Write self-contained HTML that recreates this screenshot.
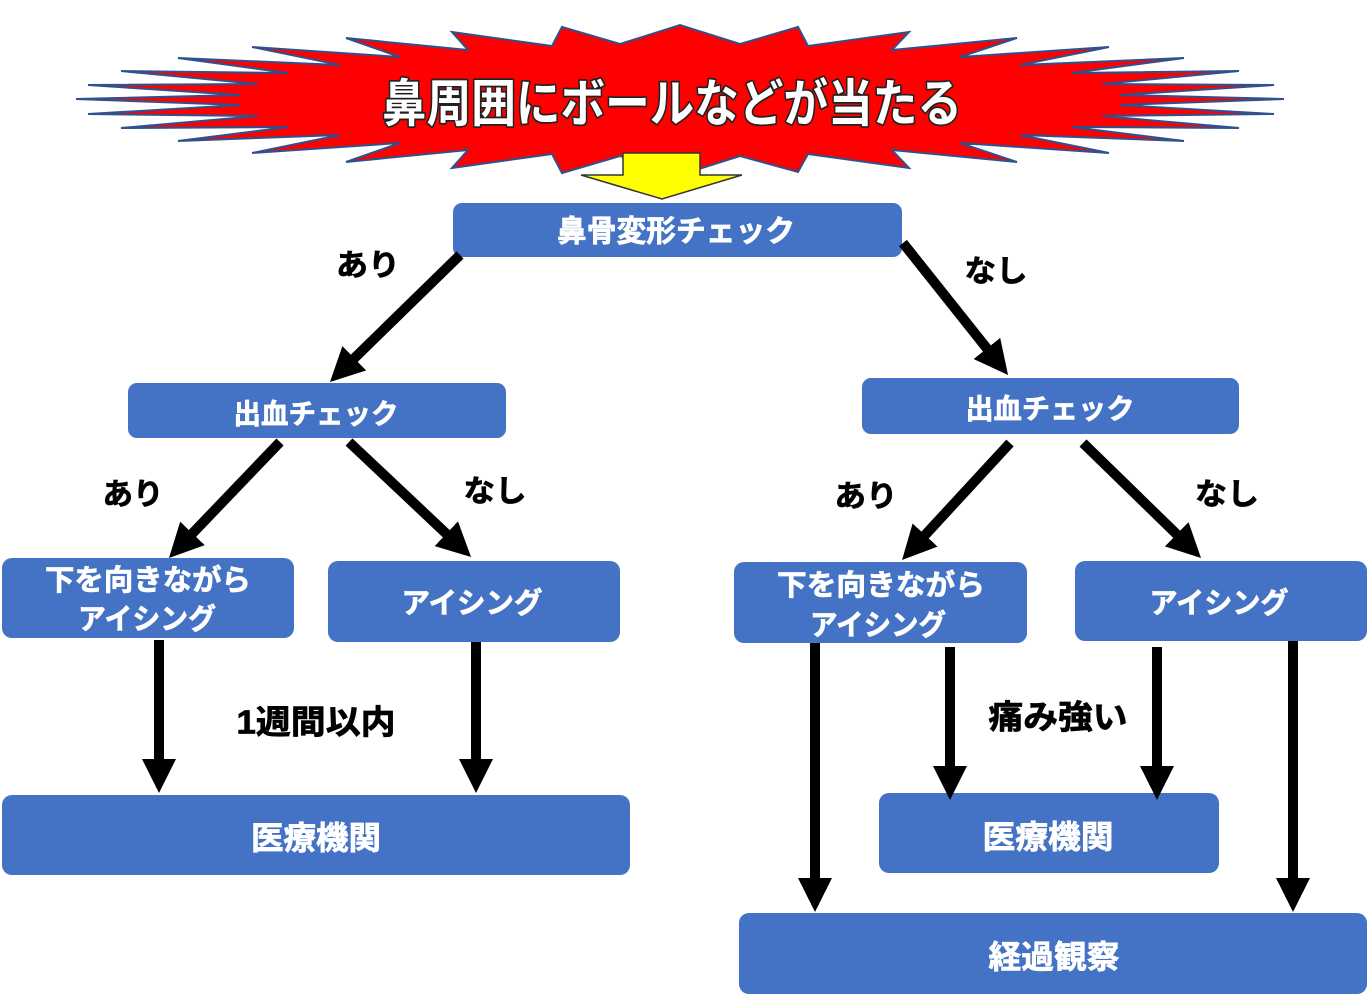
<!DOCTYPE html>
<html>
<head>
<meta charset="utf-8">
<style>
html,body{margin:0;padding:0;background:#fff;}
body{width:1370px;height:996px;overflow:hidden;}
svg{display:block;}
text{font-family:"Liberation Sans","Noto Sans CJK JP",sans-serif;font-weight:bold;}
.w text{fill:#fff;stroke:#fff;stroke-width:0.7;}
.k text{fill:#000;stroke:#000;stroke-width:0.7;}
</style>
</head>
<body>
<svg width="1370" height="996" viewBox="0 0 1370 996" xmlns="http://www.w3.org/2000/svg">
<defs>
<marker id="ah" markerUnits="userSpaceOnUse" markerWidth="36" markerHeight="36" refX="14" refY="17" orient="auto">
<path d="M0,0 L34,17 L0,34 z" fill="#000"/>
</marker>
</defs>
<rect width="1370" height="996" fill="#fff"/>

<!-- starburst -->
<polygon fill="#FF0000" stroke="#2F528F" stroke-width="2" stroke-linejoin="miter"
points="76,99 240,95 88,85 258,84 121,71 288,73 178,58 340,65 252,47 400,57 346,38 468,50 452,32 552,46 562,27 620,44 680,25 740,44 798,27 808,46 909,32 892,50 1017,38 960,57 1109,47 1020,65 1184,58 1072,73 1239,71 1102,84 1274,85 1120,95 1284,99 1120,105 1274,114 1102,116 1239,128 1072,127 1184,141 1020,135 1109,153 960,143 1017,162 892,150 909,168 808,154 798,172 740,156 680,175 620,156 562,173 552,154 452,168 468,150 346,162 400,143 252,153 340,135 178,141 288,127 121,128 258,116 88,114 240,105"/>

<text x="672" y="104" font-size="51" text-anchor="middle" dominant-baseline="central" textLength="580" lengthAdjust="spacingAndGlyphs" fill="#fff" stroke="#222" stroke-width="3.5" paint-order="stroke" stroke-linejoin="round">鼻周囲にボールなどが当たる</text>

<!-- yellow arrow -->
<polygon fill="#FFFF00" stroke="#333" stroke-width="1.5" points="623,153 700,153 700,175 742,175 662,199 581,175 623,175"/>

<!-- boxes -->
<g fill="#4472C4">
<rect x="453" y="203" width="449" height="54" rx="9"/>
<rect x="128" y="383" width="378" height="55" rx="9"/>
<rect x="862" y="378" width="377" height="56" rx="9"/>
<rect x="2" y="558" width="292" height="80" rx="10"/>
<rect x="328" y="561" width="292" height="81" rx="10"/>
<rect x="2" y="795" width="628" height="80" rx="10"/>
<rect x="734" y="562" width="293" height="81" rx="10"/>
<rect x="1075" y="561" width="292" height="80" rx="10"/>
<rect x="879" y="793" width="340" height="80" rx="10"/>
<rect x="739" y="913" width="628" height="81" rx="10"/>
</g>

<!-- arrows -->
<g stroke="#000" stroke-width="10" fill="none" marker-end="url(#ah)">
<line x1="460" y1="255" x2="344.3" y2="368"/>
<line x1="903" y1="243" x2="995.6" y2="359.4"/>
<line x1="280" y1="442" x2="182.8" y2="543.5"/>
<line x1="349" y1="442" x2="456.5" y2="543.3"/>
<line x1="1010" y1="443" x2="915.6" y2="545.3"/>
<line x1="1083" y1="443" x2="1186.7" y2="544"/>
<line x1="159" y1="640" x2="159" y2="773"/>
<line x1="476" y1="642" x2="476" y2="773"/>
<line x1="815" y1="643" x2="815" y2="892"/>
<line x1="950" y1="647" x2="950" y2="780"/>
<line x1="1157" y1="647" x2="1157" y2="780"/>
<line x1="1293" y1="641" x2="1293" y2="892"/>
</g>

<!-- box texts -->
<g class="w" text-anchor="middle" dominant-baseline="central">
<text x="676" y="232" font-size="30" textLength="238" lengthAdjust="spacingAndGlyphs">鼻骨変形チェック</text>
<text x="316" y="414" font-size="28" textLength="165" lengthAdjust="spacingAndGlyphs">出血チェック</text>
<text x="1050" y="409" font-size="28" textLength="169" lengthAdjust="spacingAndGlyphs">出血チェック</text>
<text x="148" y="581" font-size="29" textLength="206" lengthAdjust="spacingAndGlyphs">下を向きながら</text>
<text x="147" y="620" font-size="29" textLength="138" lengthAdjust="spacingAndGlyphs">アイシング</text>
<text x="472" y="604" font-size="29" textLength="141" lengthAdjust="spacingAndGlyphs">アイシング</text>
<text x="316" y="838" font-size="32" textLength="130" lengthAdjust="spacingAndGlyphs">医療機関</text>
<text x="881" y="586" font-size="29" textLength="208" lengthAdjust="spacingAndGlyphs">下を向きながら</text>
<text x="878" y="626" font-size="29" textLength="136" lengthAdjust="spacingAndGlyphs">アイシング</text>
<text x="1219" y="604" font-size="29" textLength="139" lengthAdjust="spacingAndGlyphs">アイシング</text>
<text x="1048" y="837" font-size="32" textLength="131" lengthAdjust="spacingAndGlyphs">医療機関</text>
<text x="1054" y="957" font-size="32" textLength="131" lengthAdjust="spacingAndGlyphs">経過観察</text>
</g>

<!-- labels -->
<g class="k" text-anchor="middle" dominant-baseline="central">
<text x="368" y="266" font-size="30" textLength="64" lengthAdjust="spacingAndGlyphs">あり</text>
<text x="996" y="272" font-size="30" textLength="63" lengthAdjust="spacingAndGlyphs">なし</text>
<text x="133" y="495" font-size="30" textLength="61" lengthAdjust="spacingAndGlyphs">あり</text>
<text x="495" y="492" font-size="30" textLength="63" lengthAdjust="spacingAndGlyphs">なし</text>
<text x="866" y="497" font-size="30" textLength="63" lengthAdjust="spacingAndGlyphs">あり</text>
<text x="1227" y="495" font-size="30" textLength="64" lengthAdjust="spacingAndGlyphs">なし</text>
<text x="316" y="722" font-size="33" textLength="159" lengthAdjust="spacingAndGlyphs">1週間以内</text>
<text x="1058" y="717" font-size="33" textLength="139" lengthAdjust="spacingAndGlyphs">痛み強い</text>
</g>
</svg>
</body>
</html>
